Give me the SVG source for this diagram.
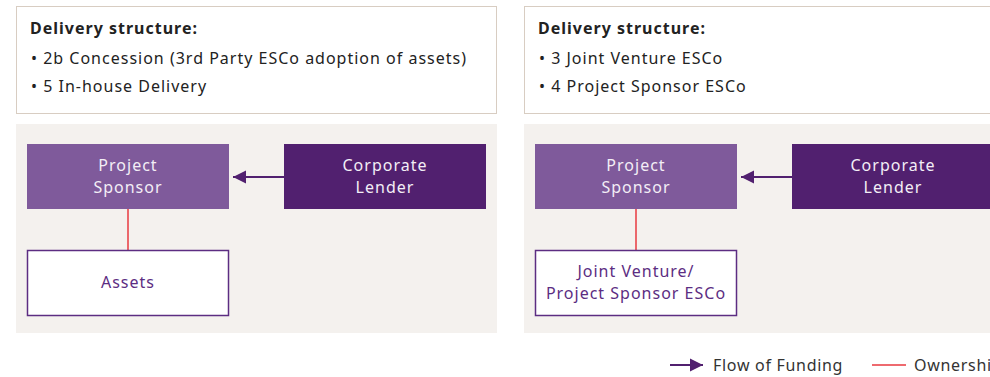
<svg xmlns="http://www.w3.org/2000/svg" width="990" height="377" viewBox="0 0 990 377">
<defs>
<style>
.hdr{fill:#ffffff;stroke:#d8cdc2;stroke-width:1}
.panel{fill:#f4f1ee}
.t{font-family:"Noto Sans","Liberation Sans",sans-serif;font-size:16px;letter-spacing:1px;fill:#222222}
.b{font-weight:bold;letter-spacing:1px}
.sp{fill:#7f5a9b}
.cl{fill:#51206f}
.wb{fill:#ffffff;stroke:#5c2d82;stroke-width:1.5}
.nt{font-family:"Noto Sans","Liberation Sans",sans-serif;font-size:16px;letter-spacing:1px;fill:#f3eef6;text-anchor:middle}
.pt{font-family:"Noto Sans","Liberation Sans",sans-serif;font-size:16px;letter-spacing:1px;fill:#5c2d82;text-anchor:middle}
.fund{stroke:#51206f;stroke-width:2;fill:none}
.own{stroke:#e8393f;stroke-width:1.5;fill:none}
.lg{font-family:"Noto Sans","Liberation Sans",sans-serif;font-size:16px;letter-spacing:0.7px;fill:#333333}
</style>
<marker id="ah" viewBox="0 0 10 10" refX="10" refY="5" markerWidth="6.5" markerHeight="7.5" markerUnits="strokeWidth" orient="auto">
<path d="M0,0 L10,5 L0,10 z" fill="#51206f"/>
</marker>
</defs>

<g id="header-left">
<rect class="hdr" x="16.5" y="6.5" width="480" height="107"/>
<text class="t b" x="30" y="34">Delivery structure:</text>
<text class="t" x="31" y="64">•  2b Concession (3rd Party ESCo adoption of assets)</text>
<text class="t" x="31" y="92">•  5 In-house Delivery</text>
</g>
<g id="header-right">
<rect class="hdr" x="524.5" y="6.5" width="480" height="107"/>
<text class="t b" x="538" y="34">Delivery structure:</text>
<text class="t" x="539" y="64">•  3 Joint Venture ESCo</text>
<text class="t" x="539" y="92">•  4 Project Sponsor ESCo</text>
</g>

<rect class="panel" x="16" y="124" width="481" height="209"/>
<rect class="panel" x="524" y="124" width="481" height="209"/>

<g id="connectors">
<line class="fund" x1="284" y1="177" x2="233" y2="177" marker-end="url(#ah)"/>
<line class="own" x1="128" y1="209" x2="128" y2="250"/>
<line class="fund" x1="792" y1="177" x2="741" y2="177" marker-end="url(#ah)"/>
<line class="own" x1="636" y1="209" x2="636" y2="250"/>
</g>

<g id="project-sponsor-left">
<rect class="sp" x="27" y="144" width="202" height="65"/>
<text class="nt" x="128" y="171">Project</text>
<text class="nt" x="128" y="193">Sponsor</text>
</g>
<g id="corporate-lender-left">
<rect class="cl" x="284" y="144" width="202" height="65"/>
<text class="nt" x="385" y="171">Corporate</text>
<text class="nt" x="385" y="193">Lender</text>
</g>
<g id="assets">
<rect class="wb" x="27.5" y="250.5" width="201" height="65"/>
<text class="pt" x="128" y="288">Assets</text>
</g>

<g id="project-sponsor-right">
<rect class="sp" x="535" y="144" width="202" height="65"/>
<text class="nt" x="636" y="171">Project</text>
<text class="nt" x="636" y="193">Sponsor</text>
</g>
<g id="corporate-lender-right">
<rect class="cl" x="792" y="144" width="202" height="65"/>
<text class="nt" x="893" y="171">Corporate</text>
<text class="nt" x="893" y="193">Lender</text>
</g>
<g id="jv-esco">
<rect class="wb" x="535.5" y="250.5" width="201" height="65"/>
<text class="pt" x="636" y="277">Joint Venture/</text>
<text class="pt" x="636" y="299">Project Sponsor ESCo</text>
</g>

<g id="legend">
<line class="fund" x1="670" y1="365" x2="703" y2="365" marker-end="url(#ah)"/>
<text class="lg" x="713" y="371">Flow of Funding</text>
<line class="own" x1="872" y1="365" x2="906" y2="365"/>
<text class="lg" x="914" y="371">Ownership</text>
</g>
</svg>
